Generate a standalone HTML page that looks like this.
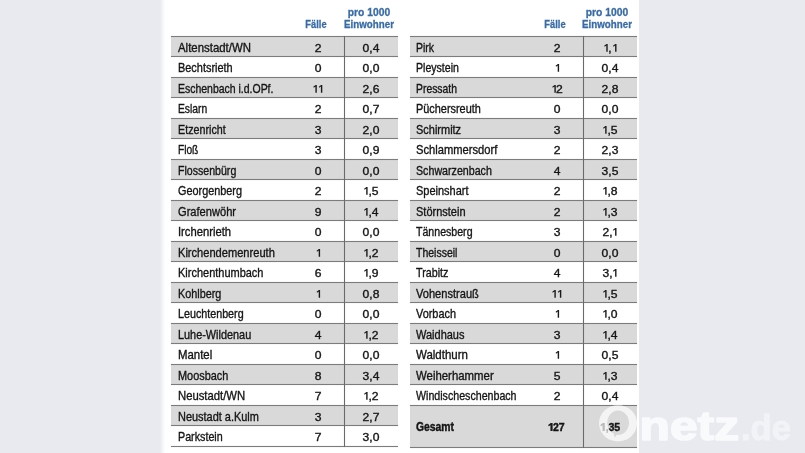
<!DOCTYPE html>
<html><head><meta charset="utf-8"><title>Tabelle</title>
<style>
html,body{margin:0;padding:0;}
body{width:805px;height:453px;overflow:hidden;background:#e8eaef;position:relative;font-family:"Liberation Sans",sans-serif;font-size:12.2px;color:#151515;-webkit-font-smoothing:antialiased;}
.panel{position:absolute;left:160px;top:0;width:479.4px;height:453px;background:linear-gradient(to right,#e8eaef 0,#f4f5f8 2.5px,#fff 5px,#fff 100%);}
.layer{position:absolute;left:0;top:0;width:805px;height:453px;will-change:transform;}
.row{position:absolute;height:20.495px;}
.g{background:#d9d9d9;}
.hl{position:absolute;height:1px;background:#7c7c7c;box-shadow:0 0 0.8px #999;}
.vl{position:absolute;width:1px;background:#6a6a6a;box-shadow:0 0 0.8px #999;}
.t{position:absolute;white-space:nowrap;line-height:14px;height:14px;-webkit-text-stroke:0.35px #151515;}
.n{transform-origin:0 50%;}
.c{transform-origin:50% 50%;transform:scaleX(1.1);text-align:center;width:40px;margin-left:-20px;font-size:11px;}
.h{color:#386ba6;font-weight:bold;font-size:11px;text-align:center;width:80px;margin-left:-40px;transform-origin:50% 50%;line-height:12px;height:12px;-webkit-text-stroke:0.3px #386ba6;}
.b{font-weight:bold;-webkit-text-stroke:0.4px #111;}
.c.b{font-size:11.4px;letter-spacing:-0.2px;-webkit-text-stroke:0.4px #111;}
.o{display:inline-block;vertical-align:baseline;fill:#1a1a1a;overflow:visible;}
</style></head><body>
<div class="panel"></div>

<div class="row g" style="left:171.2px;top:36.50px;width:226.7px"></div>
<div class="row g" style="left:171.2px;top:77.49px;width:226.7px"></div>
<div class="row g" style="left:171.2px;top:118.48px;width:226.7px"></div>
<div class="row g" style="left:171.2px;top:159.47px;width:226.7px"></div>
<div class="row g" style="left:171.2px;top:200.46px;width:226.7px"></div>
<div class="row g" style="left:171.2px;top:241.45px;width:226.7px"></div>
<div class="row g" style="left:171.2px;top:282.44px;width:226.7px"></div>
<div class="row g" style="left:171.2px;top:323.43px;width:226.7px"></div>
<div class="row g" style="left:171.2px;top:364.42px;width:226.7px"></div>
<div class="row g" style="left:171.2px;top:405.41px;width:226.7px"></div>
<div class="hl" style="left:171.2px;top:36px;width:226.7px"></div>
<div class="hl" style="left:171.2px;top:56px;width:226.7px"></div>
<div class="hl" style="left:171.2px;top:77px;width:226.7px"></div>
<div class="hl" style="left:171.2px;top:97px;width:226.7px"></div>
<div class="hl" style="left:171.2px;top:118px;width:226.7px"></div>
<div class="hl" style="left:171.2px;top:138px;width:226.7px"></div>
<div class="hl" style="left:171.2px;top:159px;width:226.7px"></div>
<div class="hl" style="left:171.2px;top:179px;width:226.7px"></div>
<div class="hl" style="left:171.2px;top:200px;width:226.7px"></div>
<div class="hl" style="left:171.2px;top:220px;width:226.7px"></div>
<div class="hl" style="left:171.2px;top:241px;width:226.7px"></div>
<div class="hl" style="left:171.2px;top:261px;width:226.7px"></div>
<div class="hl" style="left:171.2px;top:282px;width:226.7px"></div>
<div class="hl" style="left:171.2px;top:302px;width:226.7px"></div>
<div class="hl" style="left:171.2px;top:323px;width:226.7px"></div>
<div class="hl" style="left:171.2px;top:343px;width:226.7px"></div>
<div class="hl" style="left:171.2px;top:364px;width:226.7px"></div>
<div class="hl" style="left:171.2px;top:384px;width:226.7px"></div>
<div class="hl" style="left:171.2px;top:405px;width:226.7px"></div>
<div class="hl" style="left:171.2px;top:425px;width:226.7px"></div>
<div class="hl" style="left:171.2px;top:446px;width:226.7px"></div>
<div class="vl" style="left:344px;top:36px;height:411px"></div>
<div class="row g" style="left:410.2px;top:36.50px;width:226.7px"></div>
<div class="row g" style="left:410.2px;top:77.49px;width:226.7px"></div>
<div class="row g" style="left:410.2px;top:118.48px;width:226.7px"></div>
<div class="row g" style="left:410.2px;top:159.47px;width:226.7px"></div>
<div class="row g" style="left:410.2px;top:200.46px;width:226.7px"></div>
<div class="row g" style="left:410.2px;top:241.45px;width:226.7px"></div>
<div class="row g" style="left:410.2px;top:282.44px;width:226.7px"></div>
<div class="row g" style="left:410.2px;top:323.43px;width:226.7px"></div>
<div class="row g" style="left:410.2px;top:364.42px;width:226.7px"></div>
<div class="row g" style="left:410.2px;top:405.41px;width:226.7px;height:41.89px"></div>
<div class="hl" style="left:410.2px;top:36px;width:226.7px"></div>
<div class="hl" style="left:410.2px;top:56px;width:226.7px"></div>
<div class="hl" style="left:410.2px;top:77px;width:226.7px"></div>
<div class="hl" style="left:410.2px;top:97px;width:226.7px"></div>
<div class="hl" style="left:410.2px;top:118px;width:226.7px"></div>
<div class="hl" style="left:410.2px;top:138px;width:226.7px"></div>
<div class="hl" style="left:410.2px;top:159px;width:226.7px"></div>
<div class="hl" style="left:410.2px;top:179px;width:226.7px"></div>
<div class="hl" style="left:410.2px;top:200px;width:226.7px"></div>
<div class="hl" style="left:410.2px;top:220px;width:226.7px"></div>
<div class="hl" style="left:410.2px;top:241px;width:226.7px"></div>
<div class="hl" style="left:410.2px;top:261px;width:226.7px"></div>
<div class="hl" style="left:410.2px;top:282px;width:226.7px"></div>
<div class="hl" style="left:410.2px;top:302px;width:226.7px"></div>
<div class="hl" style="left:410.2px;top:323px;width:226.7px"></div>
<div class="hl" style="left:410.2px;top:343px;width:226.7px"></div>
<div class="hl" style="left:410.2px;top:364px;width:226.7px"></div>
<div class="hl" style="left:410.2px;top:384px;width:226.7px"></div>
<div class="hl" style="left:410.2px;top:405px;width:226.7px"></div>
<div class="hl" style="left:410.2px;top:447px;width:226.7px"></div>
<div class="vl" style="left:583px;top:36px;height:412px"></div>
<div class="layer">
<div class="t h" style="left:316.2px;top:18.2px;transform:scaleX(0.849)">Fälle</div>
<div class="t h" style="left:368.7px;top:6.2px;transform:scaleX(0.937)">pro 1000</div>
<div class="t h" style="left:369.0px;top:18.2px;transform:scaleX(0.887)">Einwohner</div>
<div class="t n" style="left:177.6px;top:40.70px;transform:scaleX(0.937)">Altenstadt/WN</div>
<div class="t c" style="left:317.6px;top:40.70px">2</div>
<div class="t c" style="left:371.3px;top:40.70px">0,4</div>
<div class="t n" style="left:177.6px;top:61.20px;transform:scaleX(0.897)">Bechtsrieth</div>
<div class="t c" style="left:317.6px;top:61.20px">0</div>
<div class="t c" style="left:371.3px;top:61.20px">0,0</div>
<div class="t n" style="left:177.6px;top:81.69px;transform:scaleX(0.859)">Eschenbach i.d.OPf.</div>
<div class="t c" style="left:317.6px;top:81.69px"><svg class="o" width="4.55" height="7.8" viewBox="-8 0 50 78" preserveAspectRatio="none"><path d="M23 0 L35 0 L35 78 L21 78 L21 15 L5 27 L0 18 Z"/></svg><svg class="o" width="4.55" height="7.8" viewBox="-8 0 50 78" preserveAspectRatio="none"><path d="M23 0 L35 0 L35 78 L21 78 L21 15 L5 27 L0 18 Z"/></svg></div>
<div class="t c" style="left:371.3px;top:81.69px">2,6</div>
<div class="t n" style="left:177.6px;top:102.19px;transform:scaleX(0.845)">Eslarn</div>
<div class="t c" style="left:317.6px;top:102.19px">2</div>
<div class="t c" style="left:371.3px;top:102.19px">0,7</div>
<div class="t n" style="left:177.6px;top:122.68px;transform:scaleX(0.880)">Etzenricht</div>
<div class="t c" style="left:317.6px;top:122.68px">3</div>
<div class="t c" style="left:371.3px;top:122.68px">2,0</div>
<div class="t n" style="left:177.6px;top:143.18px;transform:scaleX(0.833)">Floß</div>
<div class="t c" style="left:317.6px;top:143.18px">3</div>
<div class="t c" style="left:371.3px;top:143.18px">0,9</div>
<div class="t n" style="left:177.6px;top:163.67px;transform:scaleX(0.869)">Flossenbürg</div>
<div class="t c" style="left:317.6px;top:163.67px">0</div>
<div class="t c" style="left:371.3px;top:163.67px">0,0</div>
<div class="t n" style="left:177.6px;top:184.16px;transform:scaleX(0.891)">Georgenberg</div>
<div class="t c" style="left:317.6px;top:184.16px">2</div>
<div class="t c" style="left:371.3px;top:184.16px"><svg class="o" width="4.55" height="7.8" viewBox="-8 0 50 78" preserveAspectRatio="none"><path d="M23 0 L35 0 L35 78 L21 78 L21 15 L5 27 L0 18 Z"/></svg>,5</div>
<div class="t n" style="left:177.6px;top:204.66px;transform:scaleX(0.912)">Grafenwöhr</div>
<div class="t c" style="left:317.6px;top:204.66px">9</div>
<div class="t c" style="left:371.3px;top:204.66px"><svg class="o" width="4.55" height="7.8" viewBox="-8 0 50 78" preserveAspectRatio="none"><path d="M23 0 L35 0 L35 78 L21 78 L21 15 L5 27 L0 18 Z"/></svg>,4</div>
<div class="t n" style="left:177.6px;top:225.16px;transform:scaleX(0.922)">Irchenrieth</div>
<div class="t c" style="left:317.6px;top:225.16px">0</div>
<div class="t c" style="left:371.3px;top:225.16px">0,0</div>
<div class="t n" style="left:177.6px;top:245.65px;transform:scaleX(0.910)">Kirchendemenreuth</div>
<div class="t c" style="left:317.6px;top:245.65px"><svg class="o" width="4.55" height="7.8" viewBox="-8 0 50 78" preserveAspectRatio="none"><path d="M23 0 L35 0 L35 78 L21 78 L21 15 L5 27 L0 18 Z"/></svg></div>
<div class="t c" style="left:371.3px;top:245.65px"><svg class="o" width="4.55" height="7.8" viewBox="-8 0 50 78" preserveAspectRatio="none"><path d="M23 0 L35 0 L35 78 L21 78 L21 15 L5 27 L0 18 Z"/></svg>,2</div>
<div class="t n" style="left:177.6px;top:266.15px;transform:scaleX(0.901)">Kirchenthumbach</div>
<div class="t c" style="left:317.6px;top:266.15px">6</div>
<div class="t c" style="left:371.3px;top:266.15px"><svg class="o" width="4.55" height="7.8" viewBox="-8 0 50 78" preserveAspectRatio="none"><path d="M23 0 L35 0 L35 78 L21 78 L21 15 L5 27 L0 18 Z"/></svg>,9</div>
<div class="t n" style="left:177.6px;top:286.64px;transform:scaleX(0.887)">Kohlberg</div>
<div class="t c" style="left:317.6px;top:286.64px"><svg class="o" width="4.55" height="7.8" viewBox="-8 0 50 78" preserveAspectRatio="none"><path d="M23 0 L35 0 L35 78 L21 78 L21 15 L5 27 L0 18 Z"/></svg></div>
<div class="t c" style="left:371.3px;top:286.64px">0,8</div>
<div class="t n" style="left:177.6px;top:307.13px;transform:scaleX(0.880)">Leuchtenberg</div>
<div class="t c" style="left:317.6px;top:307.13px">0</div>
<div class="t c" style="left:371.3px;top:307.13px">0,0</div>
<div class="t n" style="left:177.6px;top:327.63px;transform:scaleX(0.893)">Luhe-Wildenau</div>
<div class="t c" style="left:317.6px;top:327.63px">4</div>
<div class="t c" style="left:371.3px;top:327.63px"><svg class="o" width="4.55" height="7.8" viewBox="-8 0 50 78" preserveAspectRatio="none"><path d="M23 0 L35 0 L35 78 L21 78 L21 15 L5 27 L0 18 Z"/></svg>,2</div>
<div class="t n" style="left:177.6px;top:348.12px;transform:scaleX(0.935)">Mantel</div>
<div class="t c" style="left:317.6px;top:348.12px">0</div>
<div class="t c" style="left:371.3px;top:348.12px">0,0</div>
<div class="t n" style="left:177.6px;top:368.62px;transform:scaleX(0.894)">Moosbach</div>
<div class="t c" style="left:317.6px;top:368.62px">8</div>
<div class="t c" style="left:371.3px;top:368.62px">3,4</div>
<div class="t n" style="left:177.6px;top:389.12px;transform:scaleX(0.927)">Neustadt/WN</div>
<div class="t c" style="left:317.6px;top:389.12px">7</div>
<div class="t c" style="left:371.3px;top:389.12px"><svg class="o" width="4.55" height="7.8" viewBox="-8 0 50 78" preserveAspectRatio="none"><path d="M23 0 L35 0 L35 78 L21 78 L21 15 L5 27 L0 18 Z"/></svg>,2</div>
<div class="t n" style="left:177.6px;top:409.61px;transform:scaleX(0.898)">Neustadt a.Kulm</div>
<div class="t c" style="left:317.6px;top:409.61px">3</div>
<div class="t c" style="left:371.3px;top:409.61px">2,7</div>
<div class="t n" style="left:177.6px;top:430.11px;transform:scaleX(0.880)">Parkstein</div>
<div class="t c" style="left:317.6px;top:430.11px">7</div>
<div class="t c" style="left:371.3px;top:430.11px">3,0</div>
<div class="t h" style="left:554.7px;top:18.2px;transform:scaleX(0.849)">Fälle</div>
<div class="t h" style="left:607.1px;top:6.2px;transform:scaleX(0.937)">pro 1000</div>
<div class="t h" style="left:607.4px;top:18.2px;transform:scaleX(0.887)">Einwohner</div>
<div class="t n" style="left:416.3px;top:40.70px;transform:scaleX(0.862)">Pirk</div>
<div class="t c" style="left:556.7px;top:40.70px">2</div>
<div class="t c" style="left:610.3px;top:40.70px"><svg class="o" width="4.55" height="7.8" viewBox="-8 0 50 78" preserveAspectRatio="none"><path d="M23 0 L35 0 L35 78 L21 78 L21 15 L5 27 L0 18 Z"/></svg>,<svg class="o" width="4.55" height="7.8" viewBox="-8 0 50 78" preserveAspectRatio="none"><path d="M23 0 L35 0 L35 78 L21 78 L21 15 L5 27 L0 18 Z"/></svg></div>
<div class="t n" style="left:416.3px;top:61.20px;transform:scaleX(0.867)">Pleystein</div>
<div class="t c" style="left:556.7px;top:61.20px"><svg class="o" width="4.55" height="7.8" viewBox="-8 0 50 78" preserveAspectRatio="none"><path d="M23 0 L35 0 L35 78 L21 78 L21 15 L5 27 L0 18 Z"/></svg></div>
<div class="t c" style="left:610.3px;top:61.20px">0,4</div>
<div class="t n" style="left:416.3px;top:81.69px;transform:scaleX(0.852)">Pressath</div>
<div class="t c" style="left:556.7px;top:81.69px"><svg class="o" width="4.55" height="7.8" viewBox="-8 0 50 78" preserveAspectRatio="none"><path d="M23 0 L35 0 L35 78 L21 78 L21 15 L5 27 L0 18 Z"/></svg>2</div>
<div class="t c" style="left:610.3px;top:81.69px">2,8</div>
<div class="t n" style="left:416.3px;top:102.19px;transform:scaleX(0.894)">Püchersreuth</div>
<div class="t c" style="left:556.7px;top:102.19px">0</div>
<div class="t c" style="left:610.3px;top:102.19px">0,0</div>
<div class="t n" style="left:416.3px;top:122.68px;transform:scaleX(0.900)">Schirmitz</div>
<div class="t c" style="left:556.7px;top:122.68px">3</div>
<div class="t c" style="left:610.3px;top:122.68px"><svg class="o" width="4.55" height="7.8" viewBox="-8 0 50 78" preserveAspectRatio="none"><path d="M23 0 L35 0 L35 78 L21 78 L21 15 L5 27 L0 18 Z"/></svg>,5</div>
<div class="t n" style="left:416.3px;top:143.18px;transform:scaleX(0.916)">Schlammersdorf</div>
<div class="t c" style="left:556.7px;top:143.18px">2</div>
<div class="t c" style="left:610.3px;top:143.18px">2,3</div>
<div class="t n" style="left:416.3px;top:163.67px;transform:scaleX(0.875)">Schwarzenbach</div>
<div class="t c" style="left:556.7px;top:163.67px">4</div>
<div class="t c" style="left:610.3px;top:163.67px">3,5</div>
<div class="t n" style="left:416.3px;top:184.16px;transform:scaleX(0.901)">Speinshart</div>
<div class="t c" style="left:556.7px;top:184.16px">2</div>
<div class="t c" style="left:610.3px;top:184.16px"><svg class="o" width="4.55" height="7.8" viewBox="-8 0 50 78" preserveAspectRatio="none"><path d="M23 0 L35 0 L35 78 L21 78 L21 15 L5 27 L0 18 Z"/></svg>,8</div>
<div class="t n" style="left:416.3px;top:204.66px;transform:scaleX(0.902)">Störnstein</div>
<div class="t c" style="left:556.7px;top:204.66px">2</div>
<div class="t c" style="left:610.3px;top:204.66px"><svg class="o" width="4.55" height="7.8" viewBox="-8 0 50 78" preserveAspectRatio="none"><path d="M23 0 L35 0 L35 78 L21 78 L21 15 L5 27 L0 18 Z"/></svg>,3</div>
<div class="t n" style="left:416.3px;top:225.16px;transform:scaleX(0.869)">Tännesberg</div>
<div class="t c" style="left:556.7px;top:225.16px">3</div>
<div class="t c" style="left:610.3px;top:225.16px">2,<svg class="o" width="4.55" height="7.8" viewBox="-8 0 50 78" preserveAspectRatio="none"><path d="M23 0 L35 0 L35 78 L21 78 L21 15 L5 27 L0 18 Z"/></svg></div>
<div class="t n" style="left:416.3px;top:245.65px;transform:scaleX(0.861)">Theisseil</div>
<div class="t c" style="left:556.7px;top:245.65px">0</div>
<div class="t c" style="left:610.3px;top:245.65px">0,0</div>
<div class="t n" style="left:416.3px;top:266.15px;transform:scaleX(0.881)">Trabitz</div>
<div class="t c" style="left:556.7px;top:266.15px">4</div>
<div class="t c" style="left:610.3px;top:266.15px">3,<svg class="o" width="4.55" height="7.8" viewBox="-8 0 50 78" preserveAspectRatio="none"><path d="M23 0 L35 0 L35 78 L21 78 L21 15 L5 27 L0 18 Z"/></svg></div>
<div class="t n" style="left:416.3px;top:286.64px;transform:scaleX(0.909)">Vohenstrauß</div>
<div class="t c" style="left:556.7px;top:286.64px"><svg class="o" width="4.55" height="7.8" viewBox="-8 0 50 78" preserveAspectRatio="none"><path d="M23 0 L35 0 L35 78 L21 78 L21 15 L5 27 L0 18 Z"/></svg><svg class="o" width="4.55" height="7.8" viewBox="-8 0 50 78" preserveAspectRatio="none"><path d="M23 0 L35 0 L35 78 L21 78 L21 15 L5 27 L0 18 Z"/></svg></div>
<div class="t c" style="left:610.3px;top:286.64px"><svg class="o" width="4.55" height="7.8" viewBox="-8 0 50 78" preserveAspectRatio="none"><path d="M23 0 L35 0 L35 78 L21 78 L21 15 L5 27 L0 18 Z"/></svg>,5</div>
<div class="t n" style="left:416.3px;top:307.13px;transform:scaleX(0.894)">Vorbach</div>
<div class="t c" style="left:556.7px;top:307.13px"><svg class="o" width="4.55" height="7.8" viewBox="-8 0 50 78" preserveAspectRatio="none"><path d="M23 0 L35 0 L35 78 L21 78 L21 15 L5 27 L0 18 Z"/></svg></div>
<div class="t c" style="left:610.3px;top:307.13px"><svg class="o" width="4.55" height="7.8" viewBox="-8 0 50 78" preserveAspectRatio="none"><path d="M23 0 L35 0 L35 78 L21 78 L21 15 L5 27 L0 18 Z"/></svg>,0</div>
<div class="t n" style="left:416.3px;top:327.63px;transform:scaleX(0.902)">Waidhaus</div>
<div class="t c" style="left:556.7px;top:327.63px">3</div>
<div class="t c" style="left:610.3px;top:327.63px"><svg class="o" width="4.55" height="7.8" viewBox="-8 0 50 78" preserveAspectRatio="none"><path d="M23 0 L35 0 L35 78 L21 78 L21 15 L5 27 L0 18 Z"/></svg>,4</div>
<div class="t n" style="left:416.3px;top:348.12px;transform:scaleX(0.942)">Waldthurn</div>
<div class="t c" style="left:556.7px;top:348.12px"><svg class="o" width="4.55" height="7.8" viewBox="-8 0 50 78" preserveAspectRatio="none"><path d="M23 0 L35 0 L35 78 L21 78 L21 15 L5 27 L0 18 Z"/></svg></div>
<div class="t c" style="left:610.3px;top:348.12px">0,5</div>
<div class="t n" style="left:416.3px;top:368.62px;transform:scaleX(0.935)">Weiherhammer</div>
<div class="t c" style="left:556.7px;top:368.62px">5</div>
<div class="t c" style="left:610.3px;top:368.62px"><svg class="o" width="4.55" height="7.8" viewBox="-8 0 50 78" preserveAspectRatio="none"><path d="M23 0 L35 0 L35 78 L21 78 L21 15 L5 27 L0 18 Z"/></svg>,3</div>
<div class="t n" style="left:416.3px;top:389.12px;transform:scaleX(0.873)">Windischeschenbach</div>
<div class="t c" style="left:556.7px;top:389.12px">2</div>
<div class="t c" style="left:610.3px;top:389.12px">0,4</div>
<div class="t n b" style="left:416.3px;top:419.96px;transform:scaleX(0.850)">Gesamt</div>
<div class="t c b" style="left:556.3px;top:419.86px;transform:scaleX(0.93)"><svg class="o" width="6.02" height="8" viewBox="-5 0 56 80" preserveAspectRatio="none"><path d="M26 0 L45 0 L45 80 L23 80 L23 22 L6 33 L0 20 Z"/></svg>27</div>
<div class="t c b" style="left:610.4px;top:419.86px;transform:scaleX(0.93)"><svg class="o" width="6.02" height="8" viewBox="-5 0 56 80" preserveAspectRatio="none"><path d="M26 0 L45 0 L45 80 L23 80 L23 22 L6 33 L0 20 Z"/></svg>,35</div>
</div>
<svg style="position:absolute;left:0;top:0" width="805" height="453" viewBox="0 0 805 453">
<g fill="#fff" font-family="Liberation Sans, sans-serif" font-weight="bold">
<path fill-opacity="0.70" fill-rule="evenodd" d="M599 423.3 a19 18.15 0 1 0 38 0 a19 18.15 0 1 0 -38 0 z M607.2 422.8 a10.9 12.2 0 0 1 21.8 0 a10.9 12.2 0 0 1 -12.5 12.0 l-1.6 3.0 l-1.3 -4.2 a10.9 12.2 0 0 1 -6.4 -10.8 z"/>
<text x="639.5" y="440.2" font-size="40" textLength="99.5" lengthAdjust="spacingAndGlyphs" opacity="0.75" stroke="#fff" stroke-width="1.6" stroke-linejoin="round">netz</text>
<text x="741" y="440.2" font-size="35" textLength="50" lengthAdjust="spacingAndGlyphs" opacity="0.45" stroke="#fff" stroke-width="0.8">.de</text>
</g></svg>
</body></html>
